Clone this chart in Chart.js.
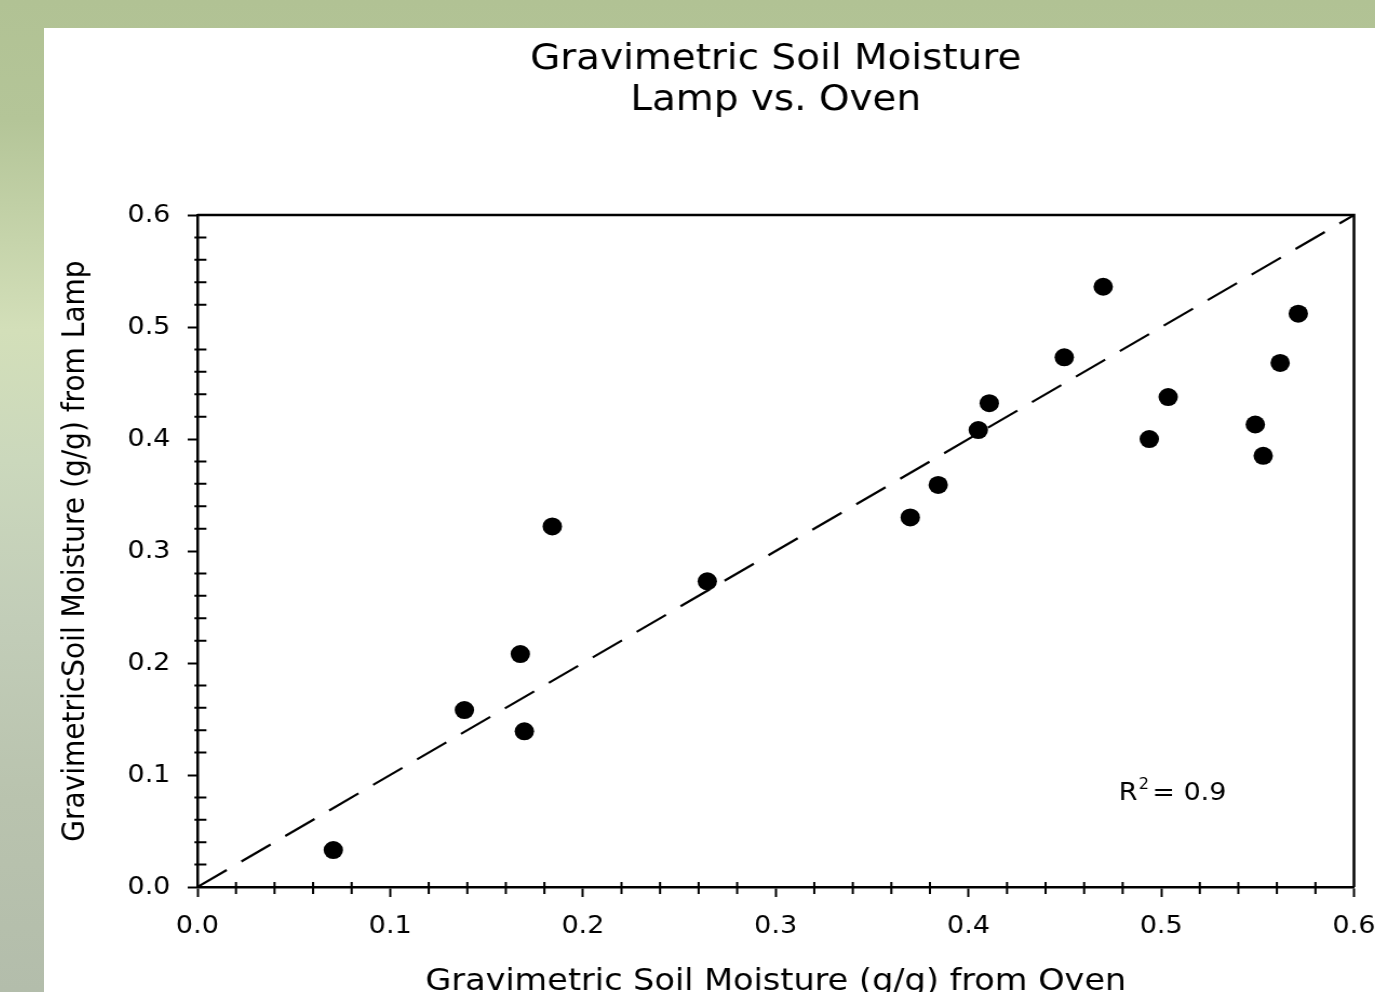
<!DOCTYPE html>
<html>
<head>
<meta charset="utf-8">
<title>Gravimetric Soil Moisture - Lamp vs. Oven</title>
<script src="https://cdn.jsdelivr.net/npm/chart.js@4.4.1/dist/chart.umd.min.js"></script>
<style>
  html, body { margin: 0; padding: 0; width: 1375px; height: 992px; overflow: hidden; }
  body {
    background: linear-gradient(to bottom, #b1c294 0px, #b4c598 120px, #d3dfb9 330px,
      #cbd8bc 460px, #c2cdb8 620px, #b9c3ae 800px, #b3bdab 992px);
  }
  #panel { position: absolute; left: 44px; top: 28px; width: 1331px; height: 964px; background: #fff; overflow: hidden; }
  #wrap { position: absolute; left: 0; top: 0; width: 1232px; height: 980px; transform: scaleX(1.0804); transform-origin: 0 0; }
</style>
</head>
<body>
<div id="panel">
  <div id="wrap"><canvas id="graficoUmidade" width="1232" height="980"></canvas></div>
</div>
<script>
// === DADOS ===
const ovenMoisture = [0.0705, 0.1385, 0.1675, 0.1696, 0.1841, 0.2645, 0.3698, 0.3843, 0.4051,
  0.4108, 0.4497, 0.4699, 0.4938, 0.5036, 0.5488, 0.5529, 0.5617, 0.5711];
const lampMoisture = [0.033, 0.158, 0.208, 0.139, 0.322, 0.273, 0.330, 0.359, 0.408,
  0.432, 0.473, 0.536, 0.400, 0.4375, 0.413, 0.385, 0.468, 0.512];
const lineX = [0, 0.6];
const lineY = [0, 0.6];
const tickLabels = ['0.0', '0.1', '0.2', '0.3', '0.4', '0.5', '0.6'];
const minorTicks = [0.02, 0.04, 0.06, 0.08, 0.12, 0.14, 0.16, 0.18, 0.22, 0.24, 0.26, 0.28,
  0.32, 0.34, 0.36, 0.38, 0.42, 0.44, 0.46, 0.48, 0.52, 0.54, 0.56, 0.58];
const rSquared = '0.9';

document.addEventListener("DOMContentLoaded", function () {

  const FONT = "'DejaVu Sans', sans-serif";
  const SX = 1.0804; // horizontal stretch of the wrapper
  Chart.defaults.font.family = FONT;
  Chart.defaults.color = '#000';

  // === TICKS SECUNDARIOS + MOLDURA ===
  const moldura = {
    id: 'moldura',
    afterDraw(chart) {
      const ctx = chart.ctx;
      const a = chart.chartArea;
      const xs = chart.scales.x, ys = chart.scales.y;
      ctx.save();
      ctx.strokeStyle = '#000';
      ctx.lineWidth = 2;
      ctx.beginPath();
      minorTicks.forEach(v => {
        const px = xs.getPixelForValue(v);
        ctx.moveTo(px, a.bottom - 5);
        ctx.lineTo(px, a.bottom + 7);
        const py = ys.getPixelForValue(v);
        ctx.moveTo(a.left - 3 / SX, py);
        ctx.lineTo(a.left + 9 / SX, py);
      });
      ctx.stroke();
      ctx.lineWidth = 2.5;
      ctx.beginPath();
      ctx.moveTo(a.left, a.top);
      ctx.lineTo(a.right, a.top);
      ctx.lineTo(a.right, a.bottom);
      ctx.stroke();
      ctx.restore();
    }
  };

  // === ROTULO R² ===
  const rotuloR2 = {
    id: 'rotuloR2',
    afterDatasetsDraw(chart) {
      const ctx = chart.ctx;
      const x0 = chart.scales.x.getPixelForValue(0.478);
      const y0 = chart.scales.y.getPixelForValue(0.0835);
      ctx.save();
      ctx.fillStyle = '#000';
      ctx.textBaseline = 'middle';
      ctx.textAlign = 'left';
      ctx.font = '25px ' + FONT;
      ctx.fillText('R', x0, y0);
      let x = x0 + ctx.measureText('R').width + 1;
      ctx.font = '15px ' + FONT;
      ctx.fillText('2', x, y0 - 8);
      x += ctx.measureText('2').width + 3;
      ctx.font = '25px ' + FONT;
      ctx.fillText('= ' + rSquared, x, y0);
      ctx.restore();
    }
  };

  new Chart(document.getElementById('graficoUmidade').getContext('2d'), {
    type: 'scatter',
    data: {
      datasets: [
        {
          type: 'line',
          data: lineX.map((x, i) => ({ x: x, y: lineY[i] })),
          borderColor: '#000',
          borderWidth: 2.2,
          borderDash: [32, 16],
          pointRadius: 0,
          fill: false,
          order: 2
        },
        {
          data: ovenMoisture.map((x, i) => ({ x: x, y: lampMoisture[i] })),
          backgroundColor: '#000',
          borderColor: '#000',
          borderWidth: 0,
          pointRadius: 9,
          pointHoverRadius: 9,
          order: 1
        }
      ]
    },
    options: {
      responsive: false,
      animation: false,
      devicePixelRatio: 1,
      layout: { padding: { left: 0, right: 19.5, top: 0, bottom: 0 } },
      plugins: {
        legend: { display: false },
        tooltip: { enabled: false },
        title: {
          display: true,
          fullSize: false,
          text: ['Gravimetric Soil Moisture', 'Lamp vs. Oven'],
          color: '#000',
          font: { size: 36, weight: 'normal', lineHeight: 1.14 },
          padding: { top: 11, bottom: 94 }
        }
      },
      scales: {
        x: {
          type: 'linear',
          min: 0,
          max: 0.6,
          afterFit(s) { s.height = 121; s.paddingLeft = 0; s.paddingRight = 0; },
          ticks: {
            stepSize: 0.1,
            autoSkip: false,
            maxRotation: 0,
            padding: 14,
            font: { size: 25 },
            callback: (v, i) => tickLabels[i]
          },
          grid: { drawOnChartArea: false, drawTicks: true, tickLength: 10, tickColor: '#000', tickWidth: 2 },
          border: { display: true, color: '#000', width: 2.5 },
          title: {
            display: true,
            text: 'Gravimetric Soil Moisture (g/g) from Oven',
            font: { size: 31 },
            padding: { top: 0, bottom: 7 }
          }
        },
        y: {
          type: 'linear',
          min: 0,
          max: 0.6,
          afterFit(s) { s.width = 142; s.paddingTop = 0; s.paddingBottom = 0; },
          ticks: {
            stepSize: 0.1,
            autoSkip: false,
            padding: 16,
            font: { size: 25 },
            callback: (v, i) => tickLabels[i]
          },
          grid: { drawOnChartArea: false, drawTicks: true, tickLength: 9, tickColor: '#000', tickWidth: 2 },
          border: { display: true, color: '#000', width: 2.5 },
          title: {
            display: true,
            text: 'GravimetricSoil Moisture (g/g) from Lamp',
            font: { size: 28 },
            padding: { top: 12.5, bottom: 0 }
          }
        }
      }
    },
    plugins: [moldura, rotuloR2]
  });
});
</script>
</body>
</html>
